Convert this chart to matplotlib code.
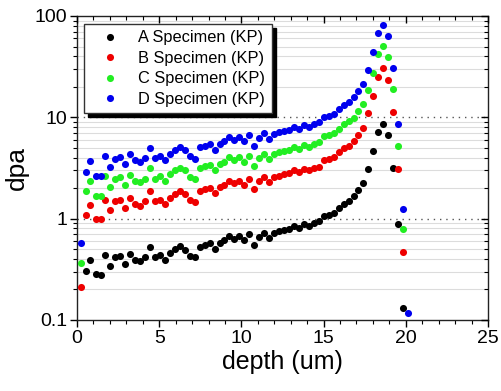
import numpy as np
import matplotlib
matplotlib.use("Agg")
import matplotlib.pyplot as plt
from matplotlib.ticker import LogLocator, FixedLocator, MultipleLocator, FuncFormatter, NullFormatter

nan = np.nan

depth = [0.22, 0.52, 0.82, 1.13, 1.43, 1.73, 2.03, 2.33, 2.63, 2.94,
         3.24, 3.54, 3.84, 4.14, 4.45, 4.75, 5.05, 5.35, 5.65, 5.95,
         6.26, 6.56, 6.86, 7.16, 7.46, 7.77, 8.07, 8.37, 8.67, 8.97,
         9.27, 9.58, 9.88, 10.18, 10.48, 10.78, 11.08, 11.39, 11.69, 11.99,
         12.29, 12.59, 12.90, 13.20, 13.50, 13.80, 14.10, 14.40, 14.71, 15.01,
         15.31, 15.61, 15.91, 16.22, 16.52, 16.82, 17.12, 17.42, 17.72, 18.03,
         18.33, 18.63, 18.93, 19.23, 19.54, 19.84, 20.14]

spec_a = [nan, 0.307, 0.388, 0.285, 0.281, 0.442, 0.339, 0.416, 0.432, 0.360,
          0.452, 0.395, 0.380, 0.420, 0.526, 0.420, 0.442, 0.395, 0.459, 0.503,
          0.534, 0.495, 0.425, 0.416, 0.52, 0.55, 0.57, 0.50, 0.58, 0.61,
          0.67, 0.63, 0.67, 0.61, 0.70, 0.55, 0.66, 0.73, 0.65, 0.72,
          0.75, 0.78, 0.79, 0.85, 0.81, 0.88, 0.85, 0.91, 0.95, 1.07,
          1.09, 1.14, 1.27, 1.38, 1.48, 1.66, 1.90, 2.25, 3.11, 4.66,
          7.1, 8.54, 6.63, 3.18, 0.88, 0.132, nan]

spec_b = [0.214, 1.08, 1.37, 0.99, 0.99, 1.54, 1.21, 1.50, 1.54, 1.27,
          1.60, 1.41, 1.34, 1.48, 1.86, 1.48, 1.54, 1.40, 1.60, 1.76,
          1.89, 1.76, 1.52, 1.45, 1.89, 1.95, 2.02, 1.78, 2.06, 2.17,
          2.38, 2.24, 2.38, 2.17, 2.49, 1.95, 2.34, 2.59, 2.31, 2.56,
          2.66, 2.77, 2.80, 3.02, 2.88, 3.12, 3.02, 3.15, 3.23, 3.75,
          3.84, 4.06, 4.54, 5.0, 5.27, 5.83, 6.77, 7.89, 11.1, 16.4,
          24.9, 30.7, 23.6, 11.2, 3.09, 0.466, nan]

spec_c = [0.366, 1.86, 2.33, 1.69, 1.66, 2.61, 2.04, 2.46, 2.57, 2.16,
          2.71, 2.38, 2.30, 2.49, 3.16, 2.49, 2.65, 2.33, 2.78, 2.99,
          3.16, 3.04, 2.57, 2.46, 3.16, 3.30, 3.42, 3.00, 3.48, 3.66,
          4.02, 3.78, 4.02, 3.66, 4.20, 3.30, 3.96, 4.38, 3.90, 4.32,
          4.50, 4.68, 4.74, 5.10, 4.86, 5.28, 5.10, 5.46, 5.69, 6.47,
          6.63, 6.99, 7.7, 8.63, 9.17, 9.9, 11.5, 13.6, 18.7, 27.4,
          42.3, 51.0, 39.8, 19.1, 5.2, 0.785, nan]

spec_d = [0.576, 2.92, 3.73, 2.65, 2.65, 4.18, 3.23, 3.87, 4.06, 3.46,
          4.34, 3.75, 3.59, 3.96, 4.97, 3.96, 4.18, 3.75, 4.37, 4.78,
          5.08, 4.78, 4.11, 3.92, 5.08, 5.23, 5.42, 4.75, 5.51, 5.80,
          6.37, 5.99, 6.37, 5.80, 6.65, 5.23, 6.27, 6.94, 6.18, 6.84,
          7.13, 7.41, 7.51, 8.08, 7.70, 8.36, 8.08, 8.65, 8.97, 10.0,
          10.3, 10.8, 12.1, 13.1, 14.1, 15.8, 18.1, 21.4, 29.6, 43.9,
          67.6, 81.5, 63.5, 30.7, 8.5, 1.25, 0.118]

labels = ["A Specimen (KP)", "B Specimen (KP)", "C Specimen (KP)", "D Specimen (KP)"]
colors = ["#000000", "#ee0000", "#22ee22", "#0000ee"]
series = [spec_a, spec_b, spec_c, spec_d]

plt.rcParams['font.family'] = ['Liberation Sans', 'DejaVu Sans']

fig = plt.figure(figsize=(5.02, 3.91), dpi=100)
ax = fig.add_axes([77/502, 1-320/391, (488-77)/502, (320-16)/391])

for vals, c, lab in zip(series, colors, labels):
    ax.plot(depth, vals, linestyle='none', marker='o', ms=5.1, mfc=c, mec=c,
            mew=0, label=lab, zorder=3)

ax.set_yscale('log')
ax.set_ylim(0.1, 100)
ax.set_xlim(0, 25)

# grid lines
for dec in [0.1, 1, 10]:
    for m in range(2, 10):
        ax.axhline(dec*m, color='#dcdcdc', lw=0.8, zorder=1)
for v in [1, 10]:
    ax.axhline(v, color='#555555', lw=1.0, ls=(0, (1, 3.5)), zorder=1)

ax.xaxis.set_major_locator(MultipleLocator(5))
ax.xaxis.set_minor_locator(MultipleLocator(1))
ax.yaxis.set_major_locator(FixedLocator([0.1, 1, 10, 100]))
ax.yaxis.set_minor_locator(LogLocator(base=10, subs=np.arange(2, 10)))
ax.yaxis.set_major_formatter(FuncFormatter(lambda v, p: '%g' % v))
ax.yaxis.set_minor_formatter(NullFormatter())

ax.tick_params(which='major', direction='out', length=5, width=1.0, labelsize=14, pad=2)
ax.tick_params(which='minor', direction='out', length=3, width=0.8)
for s in ax.spines.values():
    s.set_linewidth(1.0)
    s.set_color('#222222')

# inward ticks on top and right
axt = ax.twiny()
axt.set_xlim(ax.get_xlim())
axt.xaxis.set_major_locator(MultipleLocator(5))
axt.xaxis.set_minor_locator(MultipleLocator(1))
axt.tick_params(which='major', direction='in', length=5, width=1.0, labeltop=False)
axt.tick_params(which='minor', direction='in', length=3, width=0.8)
axr = ax.twinx()
axr.set_yscale('log')
axr.set_ylim(ax.get_ylim())
axr.yaxis.set_major_locator(FixedLocator([0.1, 1, 10, 100]))
axr.yaxis.set_minor_locator(LogLocator(base=10, subs=np.arange(2, 10)))
axr.yaxis.set_minor_formatter(NullFormatter())
axr.tick_params(which='major', direction='in', length=5, width=1.0, labelright=False)
axr.tick_params(which='minor', direction='in', length=3, width=0.8)
for a in (axt, axr):
    for s in a.spines.values():
        s.set_visible(False)

ax.set_xlabel('depth (um)', fontsize=18, labelpad=2)
ax.set_ylabel('dpa', fontsize=19, labelpad=4)

leg = ax.legend(loc='upper left', bbox_to_anchor=(0.017, 0.974), borderaxespad=0,
                fontsize=11.8, frameon=True, fancybox=False,
                shadow={'ox': 3, 'oy': -3, 'color': 'black', 'alpha': 1.0},
                edgecolor='#333333', framealpha=1, numpoints=1,
                handlelength=2.4, handletextpad=0.5, labelspacing=0.33,
                borderpad=0.4)
leg.get_frame().set_linewidth(1.0)
leg.set_zorder(10)

fig.savefig('out.png', dpi=100)
